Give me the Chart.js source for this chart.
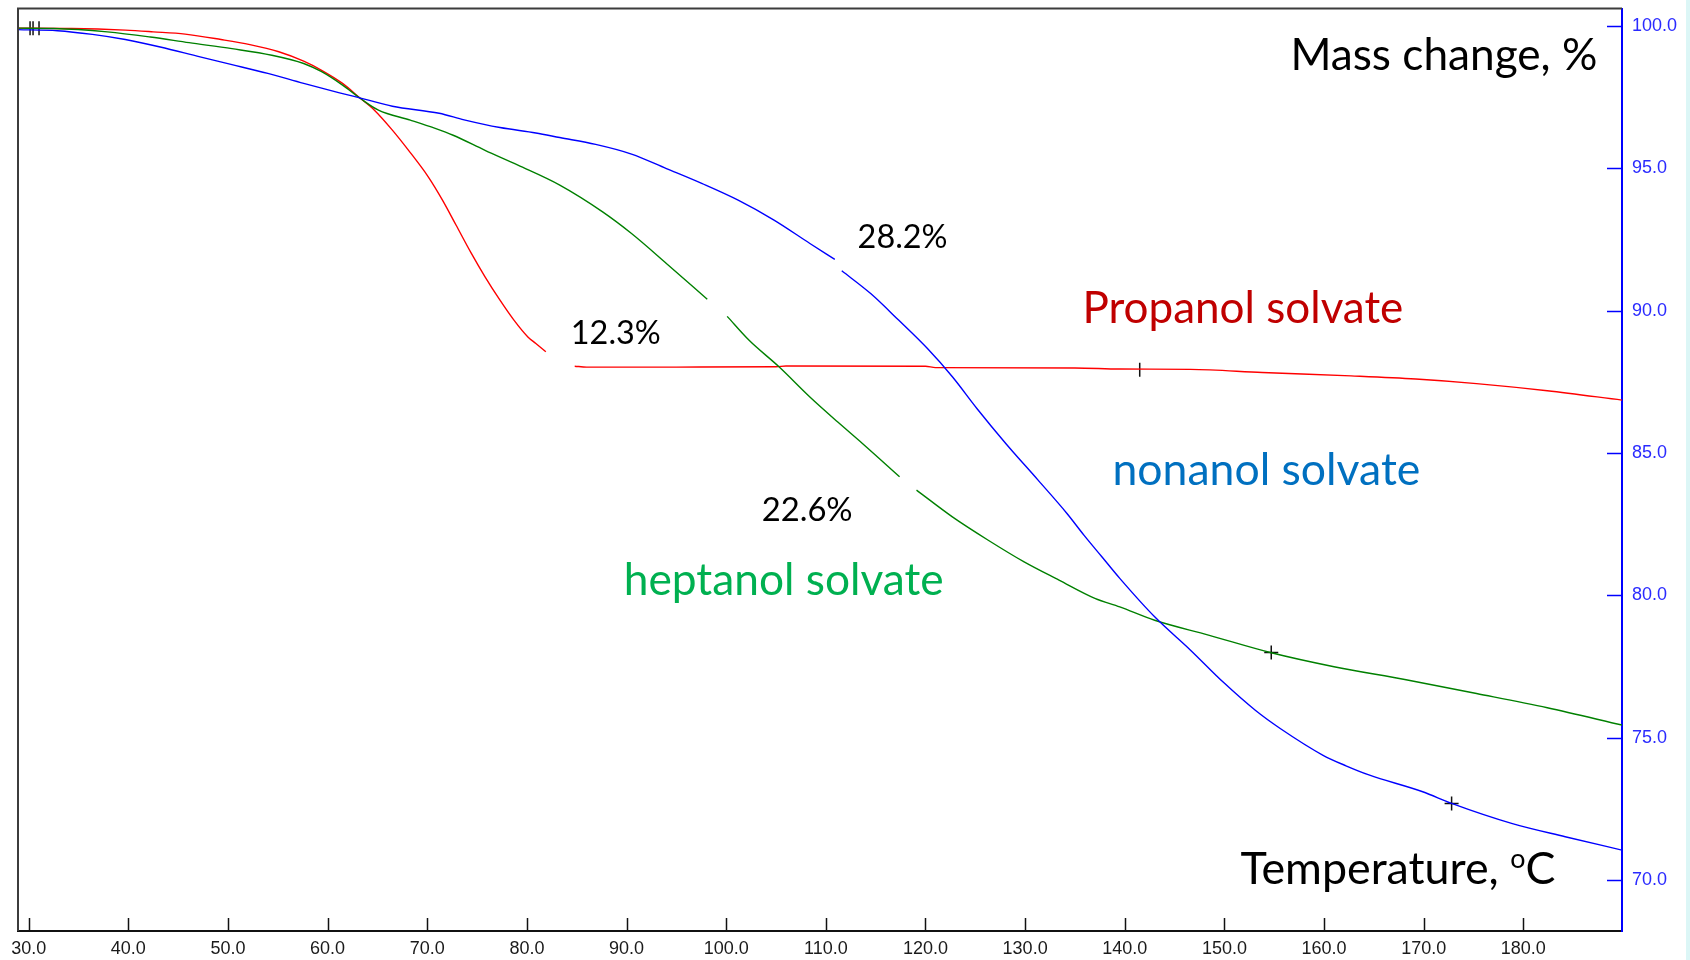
<!DOCTYPE html>
<html>
<head>
<meta charset="utf-8">
<script src="https://cdn.jsdelivr.net/npm/chart.js@4.4.1/dist/chart.umd.min.js"></script>
<style>
  html, body { margin: 0; padding: 0; }
  body { width: 1690px; height: 960px; overflow: hidden;
         background: linear-gradient(to right, #ffffff 1686px, #dcf6f6 1686px); }
  canvas { display: block; }
</style>
</head>
<body>
<canvas id="c" width="1690" height="960"></canvas>
<script>
// ---------------- data ----------------
const xTickValues = [30, 40, 50, 60, 70, 80, 90, 100, 110, 120, 130, 140, 150, 160, 170, 180];
const yTickValues = [70, 75, 80, 85, 90, 95, 100];

// Propanol solvate (red)
const propanolTemp = [28.9, 34.3, 39.7, 42.5, 45.7, 49.3, 52.2, 55.1, 57.6, 59.4, 61.5, 63.3, 64.7, 66.5, 68.3, 70.1, 71.5, 72.9, 74.4, 75.8, 77.3, 78.7, 80.1, 80.9, 81.9, 83.3, 84.8, 86.0, 95.0, 105.0, 106.0, 120.0, 121.0, 135.0, 139.5, 146.6, 153.8, 162.7, 169.2, 175.3, 182.4, 189.9];
const propanolMass = [99.92, 99.91, 99.85, 99.79, 99.71, 99.52, 99.34, 99.09, 98.76, 98.44, 97.98, 97.45, 97.04, 96.34, 95.55, 94.70, 93.90, 93.00, 92.03, 91.19, 90.37, 89.67, 89.08, 88.85, 88.56, null, 88.05, 88.02, 88.02, 88.03, 88.06, 88.05, 88.00, 87.99, 87.95, 87.94, 87.83, 87.71, 87.60, 87.44, 87.19, 86.86];

// Heptanol solvate (green)
const heptanolTemp = [28.9, 32.5, 37.9, 42.2, 46.1, 50.4, 54.4, 57.6, 59.4, 61.5, 63.3, 65.1, 68.3, 70.8, 72.6, 75.8, 79.1, 83.3, 87.6, 90.5, 94.0, 98.1, 99.0, 100.1, 102.3, 105.3, 108.4, 111.2, 113.7, 117.4, 118.2, 119.1, 122.7, 126.3, 129.9, 133.4, 137.0, 139.5, 143.0, 148.4, 154.7, 161.0, 168.1, 175.3, 182.4, 189.9];
const heptanolMass = [99.92, 99.91, 99.79, 99.61, 99.41, 99.20, 98.97, 98.68, 98.39, 97.92, 97.45, 97.04, 96.69, 96.40, 96.16, 95.63, 95.11, 94.41, 93.47, 92.71, 91.66, 90.40, null, 89.80, 88.96, 88.03, 86.97, 86.09, 85.33, 84.17, null, 83.70, 82.76, 81.94, 81.18, 80.54, 79.90, 79.60, 79.13, 78.61, 77.99, 77.50, 77.05, 76.56, 76.06, 75.45];

// Nonanol solvate (blue)
const nonanolTemp = [28.9, 32.9, 36.4, 39.7, 43.2, 47.2, 50.4, 54.0, 57.6, 61.2, 63.7, 66.5, 71.2, 73.7, 77.3, 80.9, 83.3, 86.9, 90.5, 94.0, 97.6, 101.2, 104.8, 108.4, 110.9, 111.2, 111.6, 114.5, 117.3, 120.2, 122.7, 125.2, 128.1, 131.3, 134.2, 135.9, 137.7, 139.5, 143.0, 146.6, 149.9, 153.1, 155.6, 159.9, 162.2, 164.5, 169.9, 172.8, 178.9, 184.2, 189.9];
const nonanolMass = [99.87, 99.83, 99.70, 99.52, 99.26, 98.91, 98.64, 98.33, 97.98, 97.65, 97.43, 97.18, 96.93, 96.70, 96.43, 96.24, 96.08, 95.84, 95.50, 94.99, 94.46, 93.88, 93.18, 92.36, 91.80, null, 91.40, 90.60, 89.67, 88.67, 87.68, 86.55, 85.32, 84.05, 82.88, 82.12, 81.36, 80.60, 79.25, 78.08, 76.95, 75.97, 75.33, 74.39, 74.02, 73.70, 73.11, 72.70, 71.99, 71.53, 71.06];

// cursor marks on the curves
const startMarkTemp = [30.14, 30.44, 31.04];
const startMarkMass = [99.92, 99.92, 99.92];
const crossMarkTemp = [154.7, 172.8];
const crossMarkMass = [78.0, 72.7];
const barMarkTemp = [141.5];
const barMarkMass = [87.93];

// ---------------- helpers ----------------
const pairs = (xs, ys) => xs.map((x, i) => ({ x: x, y: ys[i] }));

const textLabels = [
  { text: 'Mass change, %',   t: 156.62, m: 98.44, w: 307, color: '#000000' },
  { text: 'Propanol solvate', t: 135.75, m: 89.56, w: 321, color: '#c00000' },
  { text: 'nonanol solvate',  t: 138.76, m: 83.87, w: 308, color: '#0070c0' },
  { text: 'heptanol solvate', t: 89.72,  m: 80.01, w: 320, color: '#00b050' },
  { text: '28.2%',            t: 113.19, m: 92.19, w: 90,  color: '#000000' },
  { text: '12.3%',            t: 84.41,  m: 88.82, w: 90,  color: '#000000' },
  { text: '22.6%',            t: 103.56, m: 82.61, w: 91,  color: '#000000' }
];
const tempLabel = { main: 'Temperature, ', sup: 'o', tail: 'C', t: 151.61, m: 69.86, w: 315, color: '#000000' };
const LABEL_FONT = 'Lato, "Open Sans", sans-serif';

const framePlugin = {
  id: 'frameTicks',
  afterDatasetsDraw(chart) {
    const { ctx, chartArea: a, scales } = chart;
    const x = scales.x, y = scales.y;
    ctx.save();
    ctx.strokeStyle = '#3c3c3c';
    ctx.lineWidth = 2;
    ctx.beginPath();
    ctx.moveTo(a.left, a.bottom);
    ctx.lineTo(a.left, a.top);
    ctx.lineTo(a.right, a.top);
    ctx.stroke();
    ctx.lineWidth = 1.5;
    ctx.strokeStyle = '#111111';
    x.ticks.forEach(tk => {
      const px = Math.round(x.getPixelForValue(tk.value)) + 0.5;
      ctx.beginPath();
      ctx.moveTo(px, a.bottom);
      ctx.lineTo(px, a.bottom - 13);
      ctx.stroke();
    });
    ctx.strokeStyle = '#0000ff';
    y.ticks.forEach(tk => {
      const py = Math.round(y.getPixelForValue(tk.value)) + 0.5;
      ctx.beginPath();
      ctx.moveTo(a.right, py);
      ctx.lineTo(a.right - 15, py);
      ctx.stroke();
    });
    ctx.restore();
  },
  afterDraw(chart) {
    const { ctx, scales } = chart;
    const x = scales.x, y = scales.y;
    ctx.save();
    ctx.textBaseline = 'alphabetic';
    ctx.textAlign = 'left';
    textLabels.forEach(l => {
      ctx.font = '40px ' + LABEL_FONT;
      const size = 40 * l.w / ctx.measureText(l.text).width;
      ctx.font = size.toFixed(2) + 'px ' + LABEL_FONT;
      ctx.fillStyle = l.color;
      ctx.fillText(l.text, x.getPixelForValue(l.t), y.getPixelForValue(l.m));
    });
    // Temperature, °C with superscript o
    const L = tempLabel;
    ctx.font = '40px ' + LABEL_FONT;
    const wMain = ctx.measureText(L.main).width;
    const wTail = ctx.measureText(L.tail).width;
    ctx.font = '24px ' + LABEL_FONT;
    const wSup = ctx.measureText(L.sup).width;
    const size = 40 * L.w / (wMain + wSup + wTail);
    const k = size / 40;
    let px = x.getPixelForValue(L.t);
    const py = y.getPixelForValue(L.m);
    ctx.fillStyle = L.color;
    ctx.font = size.toFixed(2) + 'px ' + LABEL_FONT;
    ctx.fillText(L.main, px, py);
    px += wMain * k;
    ctx.font = (size * 0.6).toFixed(2) + 'px ' + LABEL_FONT;
    ctx.fillText(L.sup, px, py - size * 0.36);
    px += wSup * k;
    ctx.font = size.toFixed(2) + 'px ' + LABEL_FONT;
    ctx.fillText(L.tail, px, py);
    ctx.restore();
  }
};

const lineDs = (label, xs, ys, color) => ({
  label: label,
  data: pairs(xs, ys),
  showLine: true,
  borderColor: color,
  backgroundColor: color,
  borderWidth: 1.4,
  pointRadius: 0,
  spanGaps: false,
  cubicInterpolationMode: 'monotone'
});

new Chart(document.getElementById('c'), {
  type: 'scatter',
  data: {
    datasets: [
      lineDs('Nonanol solvate', nonanolTemp, nonanolMass, '#0000ff'),
      lineDs('Heptanol solvate', heptanolTemp, heptanolMass, '#008000'),
      lineDs('Propanol solvate', propanolTemp, propanolMass, '#ff0000'),
      { label: 'start marks', data: pairs(startMarkTemp, startMarkMass), showLine: false,
        pointStyle: 'line', rotation: 90, radius: 7, borderColor: '#111', borderWidth: 1.5 },
      { label: 'cross marks', data: pairs(crossMarkTemp, crossMarkMass), showLine: false,
        pointStyle: 'cross', radius: 7, borderColor: '#111', borderWidth: 1.5 },
      { label: 'bar marks', data: pairs(barMarkTemp, barMarkMass), showLine: false,
        pointStyle: 'line', rotation: 90, radius: 7, borderColor: '#111', borderWidth: 1.5 }
    ]
  },
  options: {
    responsive: false,
    animation: false,
    layout: { padding: { left: 18, top: 8, right: 0, bottom: 0 } },
    plugins: { legend: { display: false }, tooltip: { enabled: false } },
    scales: {
      x: {
        type: 'linear',
        position: 'bottom',
        min: 28.93,
        max: 189.9,
        afterBuildTicks: s => { s.ticks = xTickValues.map(v => ({ value: v })); },
        afterFit: s => { s.height = 29; s.paddingLeft = 0; s.paddingRight = 0; },
        grid: { display: true, drawOnChartArea: false, drawTicks: false },
        border: { display: true, color: '#111111', width: 2 },
        ticks: {
          padding: 7,
          maxRotation: 0,
          autoSkip: false,
          color: '#1a1a1a',
          font: { family: '"Liberation Sans", Arial, sans-serif', size: 18 },
          callback: v => Number(v).toFixed(1)
        }
      },
      y: {
        type: 'linear',
        position: 'right',
        min: 68.22,
        max: 100.61,
        afterBuildTicks: s => { s.ticks = yTickValues.map(v => ({ value: v })); },
        afterFit: s => { s.width = 68; s.paddingTop = 0; s.paddingBottom = 0; },
        grid: { display: true, drawOnChartArea: false, drawTicks: false },
        border: { display: true, color: '#0000ff', width: 2 },
        ticks: {
          padding: 10,
          autoSkip: false,
          color: '#2a2aff',
          font: { family: '"Liberation Sans", Arial, sans-serif', size: 18 },
          callback: v => Number(v).toFixed(1)
        }
      }
    }
  },
  plugins: [framePlugin]
});
</script>
</body>
</html>
